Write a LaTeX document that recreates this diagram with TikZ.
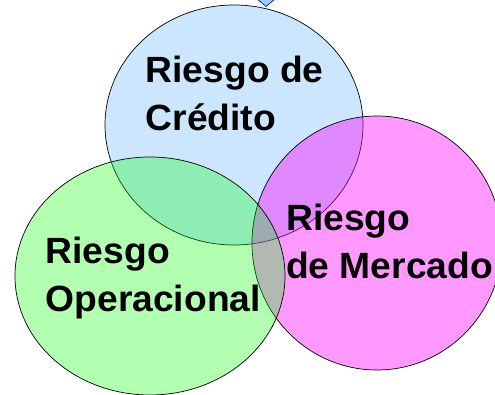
\documentclass[tikz,border=0pt]{standalone}
\usepackage{fontspec}
\setmainfont[FakeStretch=1.02]{Liberation Sans}
\usetikzlibrary{shapes.geometric}
\definecolor{cblue}{RGB}{0,128,255}
\definecolor{cmag}{RGB}{255,0,255}
\definecolor{cgreen}{RGB}{0,255,0}
\definecolor{tipfill}{RGB}{153,204,255}
\definecolor{tipline}{RGB}{20,30,90}
\tikzset{
  venn/.style={ellipse, draw=black, line width=0.7pt, inner sep=0pt},
  lbl/.style={anchor=base west, inner sep=0pt, font=\fontsize{36.5}{48}\selectfont\bfseries}
}
\begin{document}
\begin{tikzpicture}[x=1pt,y=1pt]
\useasboundingbox (0,0) rectangle (495,395);
\clip (0,0) rectangle (495,395);
% arrow tip at top
\draw[fill=tipfill, draw=tipline, line width=0.7pt] (257,396) -- (266,388.5) -- (275,396);
% ellipses
\node[venn, fill=cblue, fill opacity=0.2, draw opacity=1, minimum width=258pt, minimum height=240pt] (cred) at (234,270) {};
\node[venn, fill=cmag, fill opacity=0.4, draw opacity=1, minimum width=250pt, minimum height=254pt] (merc) at (377,152) {};
\node[venn, fill=cgreen, fill opacity=0.3, draw opacity=1, minimum width=270pt, minimum height=238pt] (oper) at (150,119) {};
% labels
\node[lbl] (tcred) at (145.5,312) {\begin{tabular}[t]{@{}l@{}}Riesgo de\\Crédito\end{tabular}};
\node[lbl] (toper) at (45.5,131) {\begin{tabular}[t]{@{}l@{}}Riesgo\\Operacional\end{tabular}};
\node[lbl] (tmerc) at (286,164) {\begin{tabular}[t]{@{}l@{}}Riesgo\\de Mercado\end{tabular}};
\end{tikzpicture}
\end{document}
